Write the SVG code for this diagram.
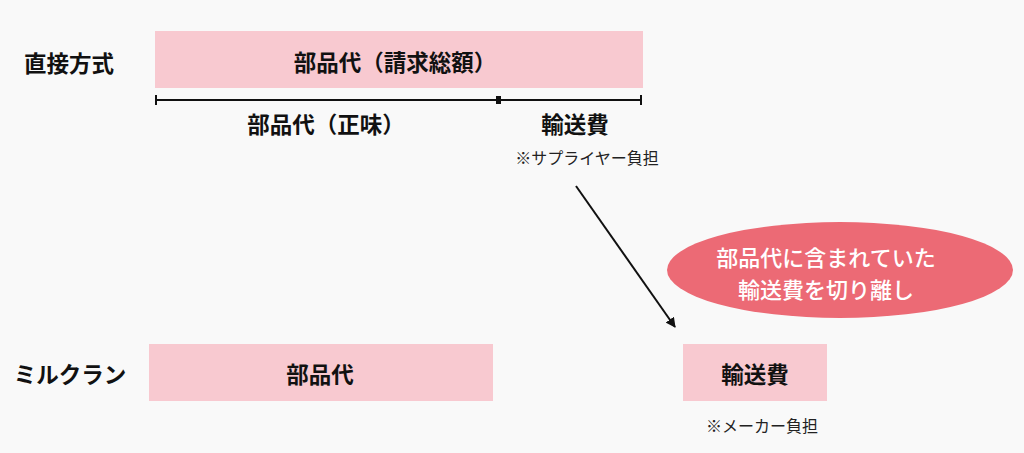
<svg xmlns="http://www.w3.org/2000/svg" width="1024" height="453" viewBox="0 0 1024 453">
<style>
.bg{fill:#f9f9f9}
.box{fill:#f8c9d0}
.t{font-family:"Noto Sans CJK JP","Noto Sans",sans-serif;font-weight:700;font-size:22.5px;fill:#111;text-anchor:middle;dominant-baseline:central}
.s{font-family:"Noto Sans CJK JP","Noto Sans",sans-serif;font-weight:400;font-size:16px;fill:#222;text-anchor:middle;dominant-baseline:central}
.w{fill:#fff;font-size:22px;font-weight:500}
.ln{stroke:#111;stroke-width:2;fill:none}
</style>
<defs>
<marker id="ah" viewBox="0 0 10 10" refX="9" refY="5" markerWidth="5" markerHeight="5" orient="auto" markerUnits="strokeWidth">
<path d="M0,0 L10,5 L0,10 z" fill="#111"/>
</marker>
</defs>
<rect class="bg" x="0" y="0" width="1024" height="453"/>
<g id="label-direct"><text class="t" x="69" y="62">直接方式</text></g>
<g id="label-milkrun"><text class="t" x="70" y="373">ミルクラン</text></g>
<g id="node-total">
<rect class="box" x="155" y="31" width="488" height="57"/>
<text class="t" x="395" y="61">部品代（請求総額）</text>
</g>
<g id="node-breakdown">
<line class="ln" x1="155" y1="100" x2="642" y2="100"/>
<line class="ln" x1="156" y1="95" x2="156" y2="105"/>
<line class="ln" x1="641" y1="95" x2="641" y2="105"/>
<rect x="496" y="96" width="5" height="8" fill="#111"/>
<text class="t" x="326" y="123">部品代（正味）</text>
<text class="t" x="575" y="123">輸送費</text>
<text class="s" x="587" y="157">※サプライヤー負担</text>
</g>
<g id="node-callout">
<ellipse cx="840" cy="270" rx="173" ry="48" fill="#ec6a75"/>
<text class="t w" x="826" y="256">部品代に含まれていた</text>
<text class="t w" x="826" y="288">輸送費を切り離し</text>
</g>
<g id="node-parts">
<rect class="box" x="149" y="344" width="344" height="57"/>
<text class="t" x="320" y="373">部品代</text>
</g>
<g id="node-shipping">
<rect class="box" x="683" y="344" width="144" height="57"/>
<text class="t" x="755" y="373">輸送費</text>
<text class="s" x="762" y="425">※メーカー負担</text>
</g>
<g id="connectors">
<line class="ln" x1="576" y1="186" x2="675" y2="327" marker-end="url(#ah)"/>
</g>
</svg>
